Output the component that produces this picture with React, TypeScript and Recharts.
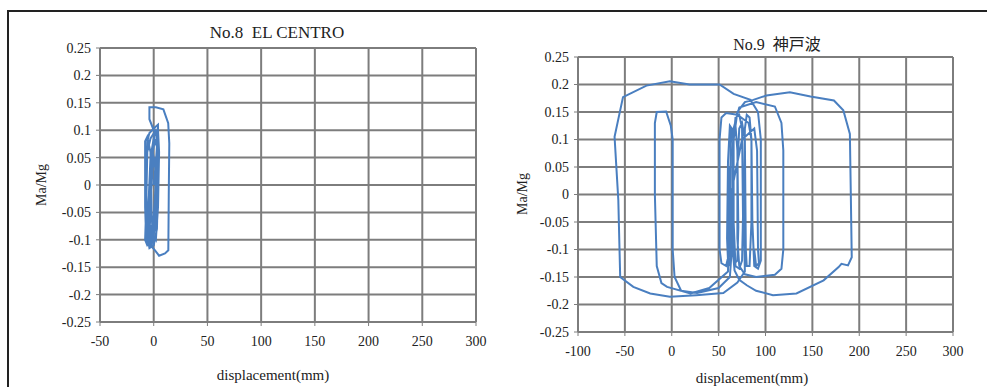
import { LineChart, Line, XAxis, YAxis, CartesianGrid } from 'recharts';

// No.8 EL CENTRO hysteresis (displacement mm, Ma/Mg)
const elCentroDisp = [
  0, 2, 3, 1, -2, -3, -4, -2, 1, 3, 4, 2, -3, -6, -7, -8, -6, -1, 2, 4, 4, 1, -4, -6, -7, -6, -4, 0, 3, 4,
  3, 0, -4, -4, 2, 9, 13.5, 14.5, 14, 13.6, 10.5, 5, 1, -3, -7, -8, -8, -6, -3, -2, -1, 2, 4, 5, 4, 1, -2,
  -3, -4, -2, 1, 2, 1, -1, -2, -5, -6, -4, 0, 3, 3, 0, -3, -5, -5, -2, 1, 2, -1, -2,
];
const elCentroRatio = [
  0, 0.04, 0.07, 0.08, 0.05, -0.03, -0.07, -0.08, -0.05, 0.03, 0.09, 0.1, 0.085, 0.06, -0.04, -0.1, -0.11,
  -0.1, -0.06, 0.05, 0.11, 0.105, 0.095, 0.08, 0, -0.09, -0.115, -0.11, -0.08, 0, 0.09, 0.1, 0.12, 0.142,
  0.142, 0.138, 0.113, 0.076, -0.02, -0.119, -0.125, -0.129, -0.119, -0.11, -0.1, -0.04, 0.08, 0.088, 0.06,
  -0.05, -0.09, -0.1, -0.04, 0.06, 0.1, 0.09, 0.04, -0.05, -0.09, -0.11, -0.08, 0, 0.05, 0.03, 0, -0.07,
  -0.1, -0.105, -0.06, 0.04, 0.08, 0.085, 0.05, -0.04, -0.095, -0.1, -0.05, 0.03, 0.06, 0.02,
];

// No.9 神戸波 hysteresis (displacement mm, Ma/Mg)
const kobeDisp = [
  62, 63, 64, 62, 60, 59, 60, 62, 64, 65, 66, 68, 70, 71, 70, 67, 65, 66, 68, 72, 75, 76, 75, 72, 68,
  66, 66, 70, 78, 87, 101, 126, 148, 173, 183, 190, 191, 192, 188, 181, 178, 162, 133, 108, 90, 80, 72, 67, 65, 65,
  66, 72, 90, 110, 117, 119, 119, 117, 110, 90, 78, 72, 70, 70,
  72, 75, 78, 79, 80, 83, 85, 85, 83, 80, 78, 77,
  78, 70, 55, 26, -2, -23, -41, -55, -57, -61, -52, -27, -2, 19, 51, 66, 84, 92, 95, 95, 92, 88, 86, 85,
  82, 70, 58, 53, 51, 51, 53, 58, 62, 62,
  60, 40, 20, -5, -11, -16, -18, -18, -16, -6, -1, 1, 1, 3, 10, 27, 50, 62, 64, 63,
  75, 88, 91, 92, 93, 90, 88,
];
const kobeRatio = [
  0, 0.09, 0.12, 0.125, 0.06, -0.08, -0.12, -0.13, -0.06, 0.08, 0.12, 0.125, 0.08, -0.06, -0.12, -0.125, -0.05,
  0.1, 0.14, 0.145, 0.12, -0.04, -0.12, -0.135, -0.13,
  -0.05, 0.1, 0.15, 0.168, 0.172, 0.18, 0.186, 0.178, 0.171, 0.153, 0.11, 0, -0.114, -0.129, -0.126, -0.132,
  -0.156, -0.18, -0.183, -0.175, -0.165, -0.155, -0.138, -0.1, 0.05,
  0.12, 0.158, 0.168, 0.16, 0.13, 0.08, -0.1, -0.135, -0.146, -0.15, -0.145, -0.13, -0.08, 0.05,
  0.12, 0.13, 0.1, -0.1, -0.13, -0.13, -0.05, 0.1, 0.14, 0.145, 0.12, -0.05,
  -0.14, -0.16, -0.179, -0.183, -0.186, -0.18, -0.168, -0.15, -0.01, 0.105, 0.177, 0.198, 0.206, 0.2, 0.2,
  0.183, 0.172, 0.15, 0.1, -0.12, -0.135, -0.13, -0.05, 0.1,
  0.13, 0.145, 0.148, 0.14, 0.1, -0.1, -0.125, -0.13, -0.1, 0.05,
  -0.14, -0.17, -0.18, -0.168, -0.161, -0.13, 0, 0.13, 0.15, 0.151, 0.125, 0.1, -0.1, -0.15, -0.175, -0.179,
  -0.17, -0.15, -0.1, 0,
  0.1, 0.12, 0.08, -0.1, -0.125, -0.13, -0.1,
];

const leftXTicks = [-50, 0, 50, 100, 150, 200, 250, 300];
const rightXTicks = [-100, -50, 0, 50, 100, 150, 200, 250, 300];
const yTicks = [-0.25, -0.2, -0.15, -0.1, -0.05, 0, 0.05, 0.1, 0.15, 0.2, 0.25];

const toPoints = (xs: number[], ys: number[]) => xs.map((x, i) => ({ x, y: ys[i] }));

const FONT = '"Liberation Serif", "Times New Roman", "DejaVu Serif", serif';
const CJK = '"Liberation Serif", "Noto Sans CJK JP", serif';
const GRID = '#7d7d7d';
const LINE = '#4a7fc0';
const tick = { fontSize: 14, fill: '#222', fontFamily: FONT };

interface LoopProps {
  data: { x: number; y: number }[];
  xTicks: number[];
  width: number;
  margin: { top: number; right: number; bottom: number; left: number };
}

function Loop({ data, xTicks, width, margin }: LoopProps) {
  return (
    <LineChart width={width} height={387} data={data} margin={margin}>
      <CartesianGrid stroke={GRID} strokeWidth={2} horizontalValues={yTicks} verticalValues={xTicks} />
      <XAxis
        type="number"
        dataKey="x"
        domain={[xTicks[0], xTicks[xTicks.length - 1]]}
        ticks={xTicks}
        interval={0}
        height={30}
        tick={tick}
        tickSize={4}
        tickMargin={10}
        axisLine={{ stroke: GRID, strokeWidth: 2 }}
        tickLine={{ stroke: GRID }}
      />
      <YAxis
        type="number"
        domain={[-0.25, 0.25]}
        ticks={yTicks}
        interval={0}
        width={50}
        tick={tick}
        tickSize={4}
        tickMargin={5}
        axisLine={{ stroke: GRID, strokeWidth: 2 }}
        tickLine={{ stroke: GRID }}
        tickFormatter={(v: number) => String(Math.round(v * 100) / 100)}
      />
      <Line
        type="linear"
        dataKey="y"
        stroke={LINE}
        strokeWidth={2}
        dot={false}
        isAnimationActive={false}
      />
    </LineChart>
  );
}

const label = (left: number, top: number, size: number, family: string, rotate = false): React.CSSProperties => ({
  position: 'absolute',
  left,
  top,
  transform: `translate(-50%, -50%)${rotate ? ' rotate(-90deg)' : ''}`,
  fontFamily: family,
  fontSize: size,
  color: '#222',
  whiteSpace: 'nowrap',
});

export default function App() {
  return (
    <div style={{ position: 'absolute', left: 0, top: 0, width: 987, height: 387, background: '#fff', overflow: 'hidden' }}>
      <div
        style={{
          position: 'absolute',
          left: 7,
          top: 10,
          width: 990,
          height: 400,
          borderTop: '2px solid #222',
          borderLeft: '2px solid #222',
        }}
      />
      <div style={{ position: 'absolute', left: 0, top: 0 }}>
        <Loop
          data={toPoints(elCentroDisp, elCentroRatio)}
          xTicks={leftXTicks}
          width={500}
          margin={{ top: 48, right: 24, bottom: 35, left: 50 }}
        />
      </div>
      <div style={{ position: 'absolute', left: 490, top: 0 }}>
        <Loop
          data={toPoints(kobeDisp, kobeRatio)}
          xTicks={rightXTicks}
          width={497}
          margin={{ top: 57, right: 34, bottom: 25, left: 38 }}
        />
      </div>
      <div style={label(277, 33, 17, FONT)}>No.8&nbsp; EL CENTRO</div>
      <div style={label(42, 185, 14, FONT, true)}>Ma/Mg</div>
      <div style={label(273, 375, 15, FONT)}>displacement(mm)</div>
      <div style={label(777, 43, 16, CJK)}>No.9&nbsp; 神戸波</div>
      <div style={label(523, 194, 14, FONT, true)}>Ma/Mg</div>
      <div style={label(752, 378, 15, FONT)}>displacement(mm)</div>
    </div>
  );
}
